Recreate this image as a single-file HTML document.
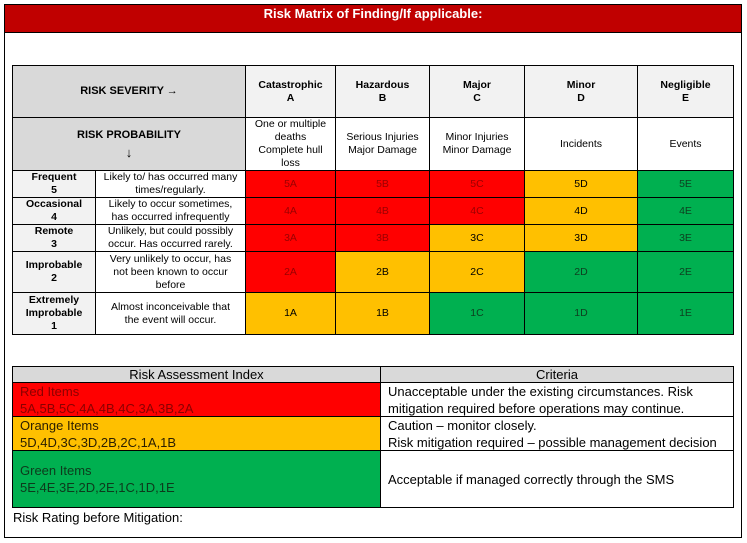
<!DOCTYPE html>
<html><head><meta charset="utf-8"><style>
body{margin:0;width:747px;height:543px;background:#fff;position:relative;overflow:hidden;font-family:"Liberation Sans",Arial,sans-serif;}
.c{position:absolute;box-sizing:border-box;border:1px solid #000;display:flex;align-items:center;justify-content:center;text-align:center;font-size:10.5px;line-height:13px;color:#000;padding:0 3px;}
.b{font-weight:bold;}
.R{background:#ff0000;color:#9a0000;}
.O{background:#ffc000;}
.G{background:#00b050;color:#0d4020;}
.l{justify-content:flex-start;text-align:left;padding-left:7px;font-size:13px;line-height:17px;}
</style></head><body>
<div style="position:absolute;left:4px;top:4px;width:738px;height:534px;border:1px solid #000;box-sizing:border-box;"></div>
<div style="position:absolute;left:4px;top:4px;width:738px;height:29px;background:#c00000;border:1px solid #000;box-sizing:border-box;color:#fff;font-weight:bold;font-size:13px;text-align:center;line-height:17px;">Risk Matrix of Finding/If applicable:</div>

<div class="c b" style="left:12px;top:65px;width:234px;height:53px;background:#d9d9d9;font-size:11px;"><div>RISK SEVERITY →</div></div>
<div class="c b" style="left:12px;top:117px;width:234px;height:54px;background:#d9d9d9;font-size:11px;line-height:18px;"><div>RISK PROBABILITY<br><span style="font-weight:normal;font-size:13px">↓</span></div></div>
<div class="c b" style="left:245px;top:65px;width:91px;height:53px;background:#f2f2f2;"><div>Catastrophic<br>A</div></div>
<div class="c b" style="left:335px;top:65px;width:95px;height:53px;background:#f2f2f2;"><div>Hazardous<br>B</div></div>
<div class="c b" style="left:429px;top:65px;width:96px;height:53px;background:#f2f2f2;"><div>Major<br>C</div></div>
<div class="c b" style="left:524px;top:65px;width:114px;height:53px;background:#f2f2f2;"><div>Minor<br>D</div></div>
<div class="c b" style="left:637px;top:65px;width:97px;height:53px;background:#f2f2f2;"><div>Negligible<br>E</div></div>
<div class="c" style="left:245px;top:117px;width:91px;height:54px;"><div>One or multiple<br>deaths<br>Complete hull<br>loss</div></div>
<div class="c" style="left:335px;top:117px;width:95px;height:54px;"><div>Serious Injuries<br>Major Damage</div></div>
<div class="c" style="left:429px;top:117px;width:96px;height:54px;"><div>Minor Injuries<br>Minor Damage</div></div>
<div class="c" style="left:524px;top:117px;width:114px;height:54px;"><div>Incidents</div></div>
<div class="c" style="left:637px;top:117px;width:97px;height:54px;"><div>Events</div></div>

<div class="c b" style="left:12px;top:170px;width:84px;height:28px;background:#f2f2f2;"><div>Frequent<br>5</div></div>
<div class="c" style="left:95px;top:170px;width:151px;height:28px;"><div>Likely to/ has occurred many<br>times/regularly.</div></div>
<div class="c R" style="left:245px;top:170px;width:91px;height:28px;">5A</div>
<div class="c R" style="left:335px;top:170px;width:95px;height:28px;">5B</div>
<div class="c R" style="left:429px;top:170px;width:96px;height:28px;">5C</div>
<div class="c O" style="left:524px;top:170px;width:114px;height:28px;">5D</div>
<div class="c G" style="left:637px;top:170px;width:97px;height:28px;">5E</div>

<div class="c b" style="left:12px;top:197px;width:84px;height:28px;background:#f2f2f2;"><div>Occasional<br>4</div></div>
<div class="c" style="left:95px;top:197px;width:151px;height:28px;"><div>Likely to occur sometimes,<br>has occurred infrequently</div></div>
<div class="c R" style="left:245px;top:197px;width:91px;height:28px;">4A</div>
<div class="c R" style="left:335px;top:197px;width:95px;height:28px;">4B</div>
<div class="c R" style="left:429px;top:197px;width:96px;height:28px;">4C</div>
<div class="c O" style="left:524px;top:197px;width:114px;height:28px;">4D</div>
<div class="c G" style="left:637px;top:197px;width:97px;height:28px;">4E</div>

<div class="c b" style="left:12px;top:224px;width:84px;height:28px;background:#f2f2f2;"><div>Remote<br>3</div></div>
<div class="c" style="left:95px;top:224px;width:151px;height:28px;"><div>Unlikely, but could possibly<br>occur. Has occurred rarely.</div></div>
<div class="c R" style="left:245px;top:224px;width:91px;height:28px;">3A</div>
<div class="c R" style="left:335px;top:224px;width:95px;height:28px;">3B</div>
<div class="c O" style="left:429px;top:224px;width:96px;height:28px;">3C</div>
<div class="c O" style="left:524px;top:224px;width:114px;height:28px;">3D</div>
<div class="c G" style="left:637px;top:224px;width:97px;height:28px;">3E</div>

<div class="c b" style="left:12px;top:251px;width:84px;height:42px;background:#f2f2f2;"><div>Improbable<br>2</div></div>
<div class="c" style="left:95px;top:251px;width:151px;height:42px;"><div>Very unlikely to occur, has<br>not been known to occur<br>before</div></div>
<div class="c R" style="left:245px;top:251px;width:91px;height:42px;">2A</div>
<div class="c O" style="left:335px;top:251px;width:95px;height:42px;">2B</div>
<div class="c O" style="left:429px;top:251px;width:96px;height:42px;">2C</div>
<div class="c G" style="left:524px;top:251px;width:114px;height:42px;">2D</div>
<div class="c G" style="left:637px;top:251px;width:97px;height:42px;">2E</div>

<div class="c b" style="left:12px;top:292px;width:84px;height:43px;background:#f2f2f2;"><div>Extremely<br>Improbable<br>1</div></div>
<div class="c" style="left:95px;top:292px;width:151px;height:43px;"><div>Almost inconceivable that<br>the event will occur.</div></div>
<div class="c O" style="left:245px;top:292px;width:91px;height:43px;">1A</div>
<div class="c O" style="left:335px;top:292px;width:95px;height:43px;">1B</div>
<div class="c G" style="left:429px;top:292px;width:96px;height:43px;">1C</div>
<div class="c G" style="left:524px;top:292px;width:114px;height:43px;">1D</div>
<div class="c G" style="left:637px;top:292px;width:97px;height:43px;">1E</div>

<div class="c" style="left:12px;top:366px;width:369px;height:17px;background:#d9d9d9;font-size:13px;"><div>Risk Assessment Index</div></div>
<div class="c" style="left:380px;top:366px;width:354px;height:17px;background:#d9d9d9;font-size:13px;"><div>Criteria</div></div>
<div class="c l" style="left:12px;top:382px;width:369px;height:35px;background:#ff0000;color:#8a0000;"><div>Red Items<br>5A,5B,5C,4A,4B,4C,3A,3B,2A</div></div>
<div class="c l" style="left:380px;top:382px;width:354px;height:35px;"><div>Unacceptable under the existing circumstances. Risk mitigation required before operations may continue.</div></div>
<div class="c l" style="left:12px;top:416px;width:369px;height:35px;background:#ffc000;color:#2a1e00;"><div>Orange Items<br>5D,4D,3C,3D,2B,2C,1A,1B</div></div>
<div class="c l" style="left:380px;top:416px;width:354px;height:35px;white-space:nowrap;"><div>Caution – monitor closely.<br>Risk mitigation required – possible management decision</div></div>
<div class="c l" style="left:12px;top:450px;width:369px;height:58px;background:#00b050;color:#0d3a1c;"><div>Green Items<br>5E,4E,3E,2D,2E,1C,1D,1E</div></div>
<div class="c l" style="left:380px;top:450px;width:354px;height:58px;"><div>Acceptable if managed correctly through the SMS</div></div>
<div style="position:absolute;left:13px;top:510px;font-size:13px;">Risk Rating before Mitigation:</div>
</body></html>
